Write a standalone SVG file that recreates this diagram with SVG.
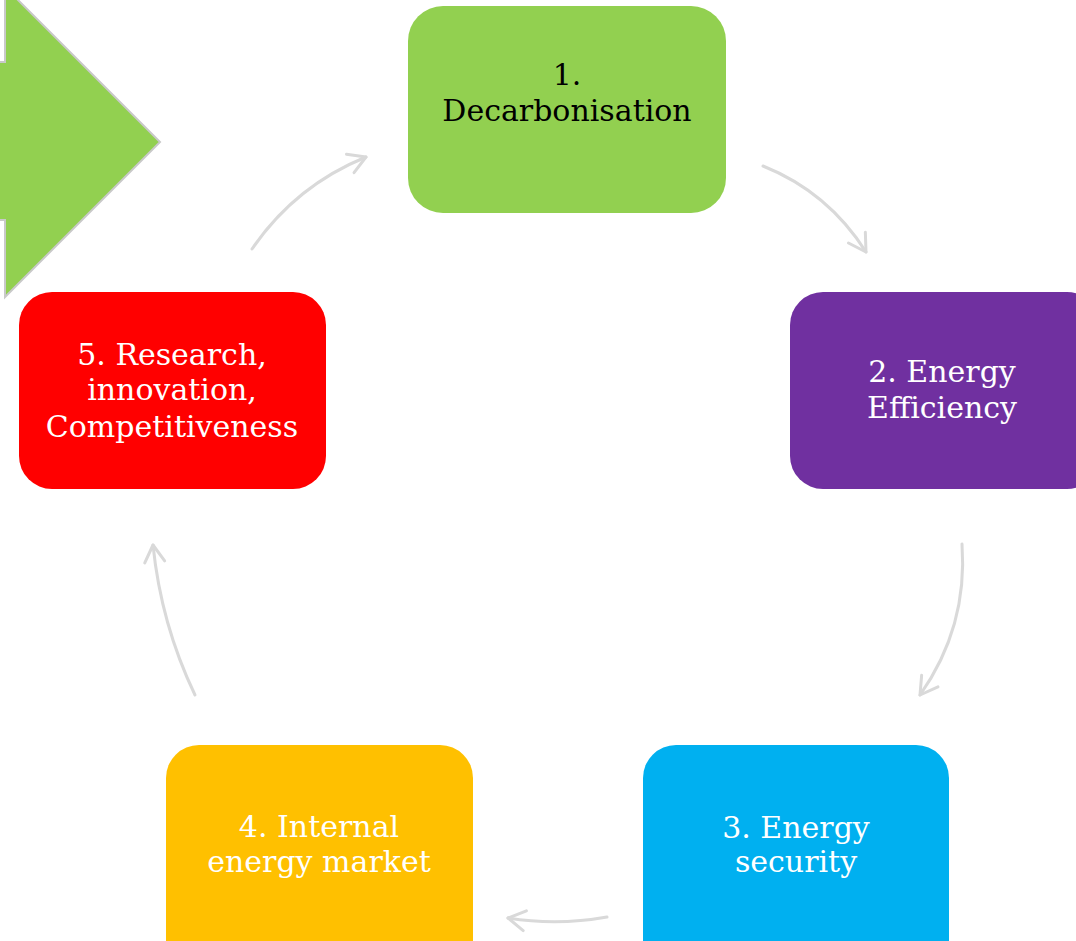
<svg xmlns="http://www.w3.org/2000/svg" width="1076" height="941" viewBox="0 0 1076 941">
<style>
.lbl{font-family:"DejaVu Serif","Liberation Serif",serif;font-size:30px;text-anchor:middle}
.w{fill:#ffffff}
.k{fill:#000000}
.con{fill:none;stroke:#d9d9d9;stroke-width:3;stroke-linecap:round}
</style>
<defs>
<marker id="ah" markerUnits="userSpaceOnUse" markerWidth="40" markerHeight="40" viewBox="-20 -20 40 40" refX="0" refY="0" orient="auto">
<path d="M-17,-10 L0,0 L-17,10" fill="none" stroke="#d9d9d9" stroke-width="3" stroke-linecap="round" stroke-linejoin="round"/>
</marker>
</defs>
<rect width="1076" height="941" fill="#ffffff"/>
<g id="bigArrow">
<polygon points="-10,62 5,62 5,-13 160,142 5,297 5,220 -10,220" fill="#92d050" stroke="#c9c9c9" stroke-width="2"/>
</g>
<g id="connectors">
<path class="con" d="M763,166 Q828,192 866,252" marker-end="url(#ah)"/>
<path class="con" d="M962,544 Q968,627 920,695" marker-end="url(#ah)"/>
<path class="con" d="M607,917 Q557,926 508,918" marker-end="url(#ah)"/>
<path class="con" d="M195,695 Q161,624 153,545" marker-end="url(#ah)"/>
<path class="con" d="M252,249 Q295,186 366,157" marker-end="url(#ah)"/>
</g>
<g id="node1">
<rect x="408" y="6" width="318" height="207" rx="35" fill="#92d050"/>
<text class="lbl k" x="567" y="85">1.</text>
<text class="lbl k" x="567" y="121">Decarbonisation</text>
</g>
<g id="node2">
<rect x="790" y="292" width="310" height="197" rx="33" fill="#7030a0"/>
<text class="lbl w" x="942" y="382">2. Energy</text>
<text class="lbl w" x="942" y="418">Efficiency</text>
</g>
<g id="node3">
<rect x="643" y="745" width="306" height="230" rx="33" fill="#00b0f0"/>
<text class="lbl w" x="796" y="838">3. Energy</text>
<text class="lbl w" x="796" y="872">security</text>
</g>
<g id="node4">
<rect x="166" y="745" width="307" height="230" rx="33" fill="#ffc000"/>
<text class="lbl w" x="319" y="837">4. Internal</text>
<text class="lbl w" x="319" y="872">energy market</text>
</g>
<g id="node5">
<rect x="19" y="292" width="307" height="197" rx="33" fill="#ff0000"/>
<text class="lbl w" x="172" y="365">5. Research,</text>
<text class="lbl w" x="172" y="400">innovation,</text>
<text class="lbl w" x="172" y="437">Competitiveness</text>
</g>
</svg>
